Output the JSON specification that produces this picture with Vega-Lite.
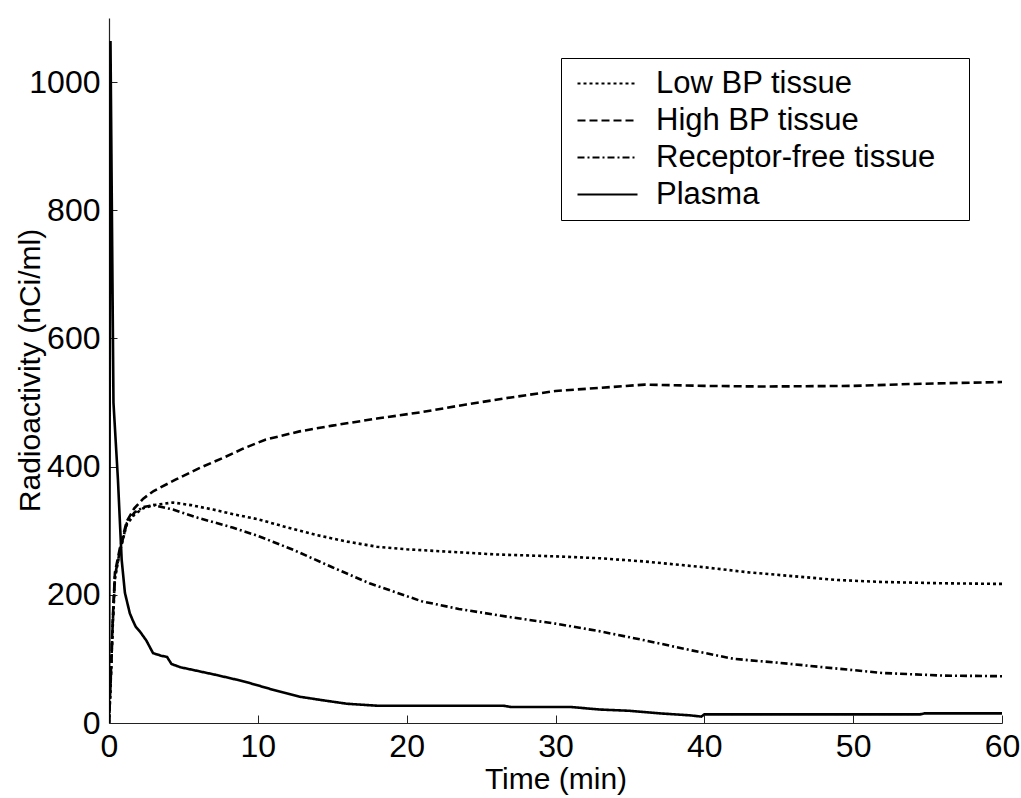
{
  "$schema": "https://vega.github.io/schema/vega-lite/v6.json",
  "autosize": {"type": "none"},
  "width": 893,
  "height": 705,
  "padding": {"left": 109, "top": 18, "right": 19, "bottom": 75},
  "background": "white",
  "config": {
    "view": {"stroke": null},
    "font": "Liberation Sans",
    "axis": {
      "grid": false,
      "domainColor": "#222222",
      "domainWidth": 1.2,
      "tickColor": "#222222",
      "tickWidth": 1,
      "tickSize": -8,
      "labelFont": "Liberation Sans",
      "labelFontSize": 32,
      "labelColor": "black",
      "labelFlush": false,
      "labelOverlap": false,
      "titleFont": "Liberation Sans",
      "titleFontSize": 30,
      "titleFontWeight": "normal",
      "titleColor": "black"
    }
  },
  "data": {
    "values": [
      {"t": 0, "v": 0, "s": "Low BP tissue"},
      {"t": 0.1, "v": 55, "s": "Low BP tissue"},
      {"t": 0.25, "v": 150, "s": "Low BP tissue"},
      {"t": 0.4, "v": 225, "s": "Low BP tissue"},
      {"t": 0.75, "v": 270, "s": "Low BP tissue"},
      {"t": 1.2, "v": 310, "s": "Low BP tissue"},
      {"t": 1.7, "v": 325, "s": "Low BP tissue"},
      {"t": 2.3, "v": 335, "s": "Low BP tissue"},
      {"t": 3, "v": 340, "s": "Low BP tissue"},
      {"t": 4.3, "v": 344, "s": "Low BP tissue"},
      {"t": 5.5, "v": 340, "s": "Low BP tissue"},
      {"t": 7, "v": 333, "s": "Low BP tissue"},
      {"t": 8.5, "v": 325, "s": "Low BP tissue"},
      {"t": 10, "v": 318, "s": "Low BP tissue"},
      {"t": 12, "v": 305, "s": "Low BP tissue"},
      {"t": 14, "v": 293, "s": "Low BP tissue"},
      {"t": 16, "v": 283, "s": "Low BP tissue"},
      {"t": 18, "v": 275, "s": "Low BP tissue"},
      {"t": 20, "v": 271, "s": "Low BP tissue"},
      {"t": 23, "v": 267, "s": "Low BP tissue"},
      {"t": 26, "v": 263, "s": "Low BP tissue"},
      {"t": 30, "v": 260, "s": "Low BP tissue"},
      {"t": 33, "v": 257, "s": "Low BP tissue"},
      {"t": 36, "v": 252, "s": "Low BP tissue"},
      {"t": 40, "v": 243, "s": "Low BP tissue"},
      {"t": 43, "v": 235, "s": "Low BP tissue"},
      {"t": 46, "v": 229, "s": "Low BP tissue"},
      {"t": 49, "v": 223, "s": "Low BP tissue"},
      {"t": 52, "v": 220, "s": "Low BP tissue"},
      {"t": 56, "v": 218, "s": "Low BP tissue"},
      {"t": 60, "v": 217, "s": "Low BP tissue"},

      {"t": 0, "v": 0, "s": "High BP tissue"},
      {"t": 0.1, "v": 60, "s": "High BP tissue"},
      {"t": 0.25, "v": 160, "s": "High BP tissue"},
      {"t": 0.4, "v": 235, "s": "High BP tissue"},
      {"t": 0.75, "v": 275, "s": "High BP tissue"},
      {"t": 1.2, "v": 315, "s": "High BP tissue"},
      {"t": 1.7, "v": 335, "s": "High BP tissue"},
      {"t": 2.3, "v": 350, "s": "High BP tissue"},
      {"t": 3, "v": 362, "s": "High BP tissue"},
      {"t": 4.5, "v": 380, "s": "High BP tissue"},
      {"t": 6, "v": 397, "s": "High BP tissue"},
      {"t": 7.8, "v": 415, "s": "High BP tissue"},
      {"t": 9, "v": 428, "s": "High BP tissue"},
      {"t": 10.5, "v": 442, "s": "High BP tissue"},
      {"t": 12.8, "v": 455, "s": "High BP tissue"},
      {"t": 15, "v": 464, "s": "High BP tissue"},
      {"t": 18, "v": 475, "s": "High BP tissue"},
      {"t": 21, "v": 485, "s": "High BP tissue"},
      {"t": 24, "v": 497, "s": "High BP tissue"},
      {"t": 27, "v": 508, "s": "High BP tissue"},
      {"t": 30, "v": 518, "s": "High BP tissue"},
      {"t": 33, "v": 523, "s": "High BP tissue"},
      {"t": 36, "v": 528, "s": "High BP tissue"},
      {"t": 40, "v": 526, "s": "High BP tissue"},
      {"t": 44, "v": 525, "s": "High BP tissue"},
      {"t": 50, "v": 526, "s": "High BP tissue"},
      {"t": 54, "v": 529, "s": "High BP tissue"},
      {"t": 60, "v": 532, "s": "High BP tissue"},

      {"t": 0, "v": 0, "s": "Receptor-free tissue"},
      {"t": 0.1, "v": 58, "s": "Receptor-free tissue"},
      {"t": 0.25, "v": 155, "s": "Receptor-free tissue"},
      {"t": 0.4, "v": 230, "s": "Receptor-free tissue"},
      {"t": 0.75, "v": 270, "s": "Receptor-free tissue"},
      {"t": 1.2, "v": 312, "s": "Receptor-free tissue"},
      {"t": 1.7, "v": 328, "s": "Receptor-free tissue"},
      {"t": 2.3, "v": 337, "s": "Receptor-free tissue"},
      {"t": 3, "v": 340, "s": "Receptor-free tissue"},
      {"t": 4.3, "v": 333, "s": "Receptor-free tissue"},
      {"t": 6, "v": 320, "s": "Receptor-free tissue"},
      {"t": 8.3, "v": 305, "s": "Receptor-free tissue"},
      {"t": 10, "v": 292, "s": "Receptor-free tissue"},
      {"t": 12.4, "v": 270, "s": "Receptor-free tissue"},
      {"t": 15, "v": 243, "s": "Receptor-free tissue"},
      {"t": 17.5, "v": 218, "s": "Receptor-free tissue"},
      {"t": 21, "v": 190, "s": "Receptor-free tissue"},
      {"t": 23.5, "v": 178, "s": "Receptor-free tissue"},
      {"t": 27, "v": 165, "s": "Receptor-free tissue"},
      {"t": 30, "v": 155, "s": "Receptor-free tissue"},
      {"t": 33, "v": 143, "s": "Receptor-free tissue"},
      {"t": 36, "v": 129, "s": "Receptor-free tissue"},
      {"t": 39, "v": 114, "s": "Receptor-free tissue"},
      {"t": 42, "v": 100, "s": "Receptor-free tissue"},
      {"t": 45, "v": 94, "s": "Receptor-free tissue"},
      {"t": 48, "v": 87, "s": "Receptor-free tissue"},
      {"t": 52, "v": 78, "s": "Receptor-free tissue"},
      {"t": 56, "v": 74, "s": "Receptor-free tissue"},
      {"t": 60, "v": 73, "s": "Receptor-free tissue"},

      {"t": 0, "v": 0, "s": "Plasma"},
      {"t": 0.1, "v": 1064, "s": "Plasma"},
      {"t": 0.3, "v": 500, "s": "Plasma"},
      {"t": 0.6, "v": 380, "s": "Plasma"},
      {"t": 0.85, "v": 255, "s": "Plasma"},
      {"t": 1.07, "v": 203, "s": "Plasma"},
      {"t": 1.4, "v": 171, "s": "Plasma"},
      {"t": 1.6, "v": 160, "s": "Plasma"},
      {"t": 1.8, "v": 150, "s": "Plasma"},
      {"t": 2.1, "v": 142, "s": "Plasma"},
      {"t": 2.5, "v": 129, "s": "Plasma"},
      {"t": 2.96, "v": 109, "s": "Plasma"},
      {"t": 3.5, "v": 105, "s": "Plasma"},
      {"t": 3.9, "v": 103, "s": "Plasma"},
      {"t": 4.2, "v": 92, "s": "Plasma"},
      {"t": 4.8, "v": 87, "s": "Plasma"},
      {"t": 6, "v": 81, "s": "Plasma"},
      {"t": 7.2, "v": 75, "s": "Plasma"},
      {"t": 8.5, "v": 68, "s": "Plasma"},
      {"t": 9.5, "v": 62, "s": "Plasma"},
      {"t": 11, "v": 52, "s": "Plasma"},
      {"t": 12.8, "v": 41, "s": "Plasma"},
      {"t": 14.5, "v": 35, "s": "Plasma"},
      {"t": 16, "v": 30, "s": "Plasma"},
      {"t": 18, "v": 27, "s": "Plasma"},
      {"t": 26.5, "v": 27, "s": "Plasma"},
      {"t": 27, "v": 25, "s": "Plasma"},
      {"t": 31, "v": 25, "s": "Plasma"},
      {"t": 33, "v": 21, "s": "Plasma"},
      {"t": 35, "v": 19, "s": "Plasma"},
      {"t": 37, "v": 15, "s": "Plasma"},
      {"t": 39, "v": 12, "s": "Plasma"},
      {"t": 39.8, "v": 10, "s": "Plasma"},
      {"t": 40, "v": 13.5, "s": "Plasma"},
      {"t": 54.5, "v": 13.5, "s": "Plasma"},
      {"t": 54.8, "v": 15, "s": "Plasma"},
      {"t": 60, "v": 15, "s": "Plasma"}
    ]
  },
  "mark": {"type": "line", "color": "black", "strokeWidth": 2.6, "clip": true},
  "encoding": {
    "x": {
      "field": "t", "type": "quantitative",
      "scale": {"domain": [0, 60], "nice": false, "zero": false},
      "axis": {"values": [0, 10, 20, 30, 40, 50, 60], "format": "d", "title": "Time (min)", "labelPadding": 16, "titleY": 56, "titleBaseline": "middle"}
    },
    "y": {
      "field": "v", "type": "quantitative",
      "scale": {"domain": [0, 1100], "nice": false},
      "axis": {"values": [0, 200, 400, 600, 800, 1000], "format": "d", "title": "Radioactivity (nCi/ml)", "labelPadding": 17, "titleX": -79, "titleY": 352, "titleBaseline": "middle", "titleAngle": -90}
    },
    "strokeDash": {
      "field": "s", "type": "nominal",
      "scale": {
        "domain": ["Low BP tissue", "High BP tissue", "Receptor-free tissue", "Plasma"],
        "range": [[3, 3], [8, 4], [7, 3, 2, 3], [1, 0]]
      },
      "legend": {
        "title": null,
        "orient": "none",
        "legendX": 452,
        "legendY": 40,
        "symbolType": "M-1,0H1",
        "symbolSize": 3600,
        "symbolStrokeWidth": 2.2,
        "symbolStrokeColor": "black",
        "symbolOffset": 5,
        "clipHeight": 31,
        "labelFont": "Liberation Sans",
        "labelFontSize": 31,
        "labelColor": "black",
        "labelOffset": 17,
        "labelLimit": 0,
        "labelExpr": "datum.label + '\u2800'",
        "rowPadding": 5,
        "padding": 10,
        "strokeColor": "black",
        "fillColor": "white"
      }
    }
  }
}
